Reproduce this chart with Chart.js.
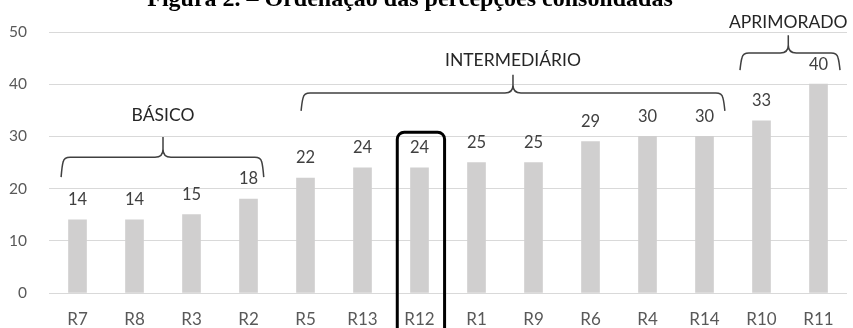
<!DOCTYPE html>
<html>
<head>
<meta charset="utf-8">
<script src="https://cdn.jsdelivr.net/npm/chart.js@4"></script>
<style>
  html, body { margin: 0; padding: 0; background: #fff; }
  #wrap { width: 853px; height: 328px; position: relative; }
</style>
</head>
<body>
<div id="wrap"><canvas id="chart"></canvas></div>
<script>
// Data
const categories = ['R7', 'R8', 'R3', 'R2', 'R5', 'R13', 'R12', 'R1', 'R9', 'R6', 'R4', 'R14', 'R10', 'R11'];
const values = [14, 14, 15, 18, 22, 24, 24, 25, 25, 29, 30, 30, 33, 40];
const yTicks = [0, 10, 20, 30, 40, 50];

const groupNames = ['BÁSICO', 'INTERMEDIÁRIO', 'APRIMORADO'];
const groupFirst = ['R7', 'R5', 'R10'];
const groupLast = ['R2', 'R14', 'R11'];
const highlighted = 'R12';

const titleText = 'Figura 2. – Ordenação das percepções consolidadas';

// brace geometry: offsets in category widths, heights in axis units
const braceStyle = [
    { left: -0.27, right: 0.25, spike: 1.5, line: 26.0, foot: 22.2, tip: 29.9, text: 34.1 },
    { left: -0.06, right: 0.34, spike: 7.64, line: 38.3, foot: 34.9, tip: 41.8, text: 44.6 },
    { left: -0.36, right: 0.36, spike: 12.47, line: 46.0, foot: 42.7, tip: 49.4, text: 51.9 }
];

const FONT = 'Lato, "Open Sans", sans-serif';

const annotations = {
    id: 'annotations',
    afterDatasetsDraw(chart) {
        const ctx = chart.ctx;
        const x = chart.scales.x, y = chart.scales.y;
        const cat = x.getPixelForValue(1) - x.getPixelForValue(0);
        const meta = chart.getDatasetMeta(0);

        // value labels
        ctx.save();
        ctx.font = '16.5px ' + FONT;
        ctx.fillStyle = '#404040';
        ctx.textAlign = 'center';
        ctx.textBaseline = 'middle';
        meta.data.forEach((bar, i) => {
            ctx.fillText(String(values[i]), bar.x, bar.y - 20);
        });
        ctx.restore();

        // braces
        ctx.save();
        ctx.strokeStyle = '#404040';
        ctx.lineWidth = 1.5;
        groupNames.forEach((name, g) => {
            const s = braceStyle[g];
            const x0 = x.getPixelForValue(categories.indexOf(groupFirst[g])) + s.left * cat;
            const x1 = x.getPixelForValue(categories.indexOf(groupLast[g])) + s.right * cat;
            const xs = x.getPixelForValue(0) + s.spike * cat;
            const yh = y.getPixelForValue(s.line);
            const yb = y.getPixelForValue(s.foot);
            const yt = y.getPixelForValue(s.tip);
            const r = 8;
            ctx.beginPath();
            ctx.moveTo(x0 - 1, yb);
            ctx.quadraticCurveTo(x0, yh + r, x0 + 1, yh + r * 0.6);
            ctx.quadraticCurveTo(x0 + 2, yh, x0 + r, yh);
            ctx.lineTo(xs - r, yh);
            ctx.quadraticCurveTo(xs, yh, xs, yh - r);
            ctx.lineTo(xs, yt);
            ctx.moveTo(x1 + 1, yb);
            ctx.quadraticCurveTo(x1, yh + r, x1 - 1, yh + r * 0.6);
            ctx.quadraticCurveTo(x1 - 2, yh, x1 - r, yh);
            ctx.lineTo(xs + r, yh);
            ctx.quadraticCurveTo(xs, yh, xs, yh - r);
            ctx.stroke();

            ctx.font = '17.5px ' + FONT;
            ctx.fillStyle = '#262626';
            ctx.textAlign = 'center';
            ctx.textBaseline = 'middle';
            ctx.fillText(name, xs, y.getPixelForValue(s.text));
        });
        ctx.restore();

        // highlight box
        const hi = categories.indexOf(highlighted);
        const hx0 = x.getPixelForValue(hi) - 0.39 * cat;
        const hx1 = x.getPixelForValue(hi) + 0.44 * cat;
        const hy0 = y.getPixelForValue(30.8);
        const hy1 = chart.height + 10;
        ctx.save();
        ctx.strokeStyle = '#000';
        ctx.lineWidth = 3;
        ctx.beginPath();
        ctx.roundRect(hx0, hy0, hx1 - hx0, hy1 - hy0, 7);
        ctx.stroke();
        ctx.restore();

        // title (cut off at the top in the source)
        ctx.save();
        ctx.font = 'bold 24px "Liberation Serif", "DejaVu Serif", serif';
        ctx.fillStyle = '#000';
        ctx.textAlign = 'center';
        ctx.textBaseline = 'alphabetic';
        ctx.fillText(titleText, 410, 6);
        ctx.restore();
    }
};

new Chart(document.getElementById('chart'), {
    type: 'bar',
    data: {
        labels: categories,
        datasets: [{
            data: values,
            backgroundColor: '#d0cfcf',
            barThickness: 18
        }]
    },
    options: {
        responsive: true,
        maintainAspectRatio: false,
        animation: false,
        layout: { padding: { top: 32, right: 6, left: 0, bottom: 0 } },
        plugins: {
            legend: { display: false },
            tooltip: { enabled: false }
        },
        scales: {
            x: {
                grid: { display: false },
                border: { display: false },
                ticks: { color: '#595959', font: { family: FONT, size: 17 }, padding: 8 },
                afterFit: (scale) => { scale.height = 35; }
            },
            y: {
                min: 0,
                max: 50,
                afterBuildTicks: (scale) => { scale.ticks = yTicks.map(v => ({ value: v })); },
                grid: { color: '#d9d9d9', drawTicks: false },
                border: { display: false },
                ticks: { color: '#595959', font: { family: FONT, size: 15.5 }, padding: 22 },
                afterFit: (scale) => { scale.width = 49; }
            }
        }
    },
    plugins: [annotations]
});
</script>
</body>
</html>
